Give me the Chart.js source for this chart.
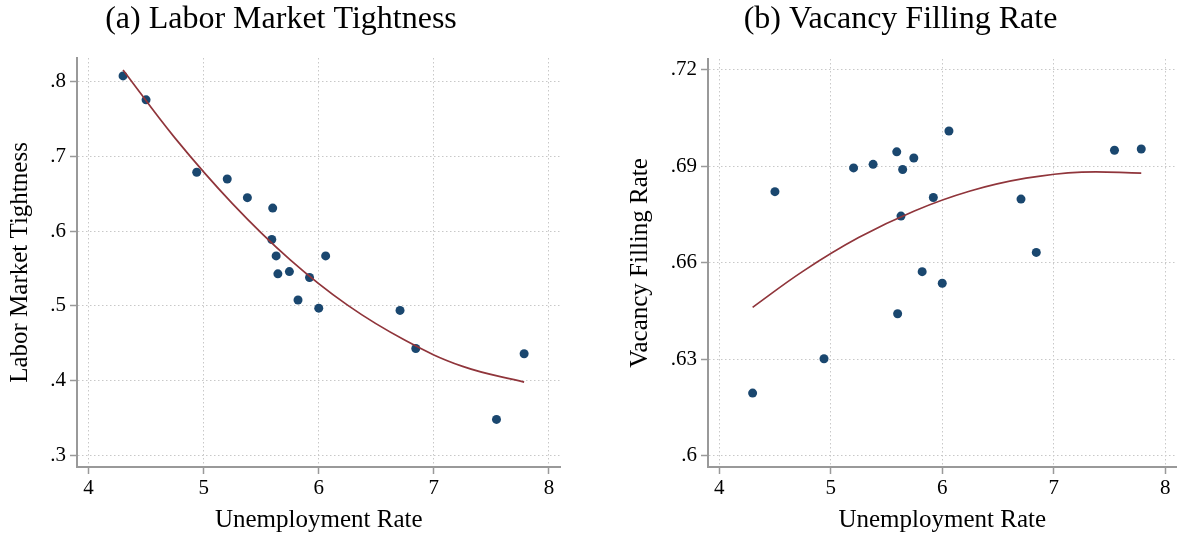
<!DOCTYPE html>
<html><head><meta charset="utf-8">
<script src="https://cdn.jsdelivr.net/npm/chart.js@4.4.0/dist/chart.umd.min.js"></script>
<style>
html,body{margin:0;padding:0;background:#fff;}
body{width:1181px;height:535px;position:relative;overflow:hidden;}
canvas{position:absolute;top:0;}
#c1{left:0;} #c2{left:620px;}
</style></head><body>
<canvas id="c1" width="565" height="535"></canvas>
<canvas id="c2" width="561" height="535"></canvas>
<script>
// ---- data ----
const unemployment   = [4.30, 4.50, 4.94, 5.205, 5.38, 5.592, 5.60, 5.63, 5.645, 5.745, 5.82, 5.92, 6.00, 6.06, 6.706, 6.843, 7.544, 7.784];
const tightness      = [0.808, 0.776, 0.679, 0.670, 0.645, 0.589, 0.631, 0.567, 0.543, 0.546, 0.508, 0.538, 0.497, 0.567, 0.494, 0.443, 0.348, 0.436];
const vacancyFilling = [0.6194, 0.6821, 0.6301, 0.6895, 0.6906, 0.6945, 0.6441, 0.6745, 0.6890, 0.6926, 0.6572, 0.6803, 0.6536, 0.7010, 0.6798, 0.6632, 0.6950, 0.6954];

// fitted (quadratic) curves, read at several points along the drawn lines
const fitX           = [4.30, 4.75, 5.25, 5.75, 6.25, 6.75, 7.25, 7.784];
const fitTightness   = [0.816, 0.725, 0.637, 0.562, 0.501, 0.454, 0.419, 0.398];
const fitVacancy     = [0.6461, 0.6573, 0.6678, 0.6761, 0.6823, 0.6863, 0.6882, 0.6879];

// axes
const xTicks        = [4, 5, 6, 7, 8];
const xTickLabels   = ['4', '5', '6', '7', '8'];
const yTicksA       = [0.3, 0.4, 0.5, 0.6, 0.7, 0.8];
const yTickLabelsA  = ['.3', '.4', '.5', '.6', '.7', '.8'];
const yTicksB       = [0.60, 0.63, 0.66, 0.69, 0.72];
const yTickLabelsB  = ['.6', '.63', '.66', '.69', '.72'];

const titleA = '(a) Labor Market Tightness';
const titleB = '(b) Vacancy Filling Rate';
const xTitle = 'Unemployment Rate';
const yTitleA = 'Labor Market Tightness';
const yTitleB = 'Vacancy Filling Rate';

// ---- styling ----
const SERIF = "'Liberation Serif', 'Times New Roman', serif";
const NAVY = '#1a476f';
const MAROON = '#90353b';
const GRID = '#c8c8c8';
const AXIS = '#999999';

function pts(xs, ys) { return xs.map((x, i) => ({x: x, y: ys[i]})); }

function makeChart(id, cfg) {
  return new Chart(document.getElementById(id), {
    type: 'scatter',
    data: {
      datasets: [
        {
          data: pts(fitX, cfg.fit),
          showLine: true,
          borderColor: MAROON,
          borderWidth: 1.7,
          pointRadius: 0,
          tension: 0.4,
          fill: false
        },
        {
          data: pts(unemployment, cfg.values),
          showLine: false,
          pointRadius: 4.5,
          pointBackgroundColor: NAVY,
          pointBorderColor: NAVY,
          pointBorderWidth: 0
        }
      ]
    },
    options: {
      responsive: false,
      animation: false,
      events: [],
      layout: { padding: { left: 0, right: cfg.rightPad, top: 0, bottom: 0 } },
      plugins: {
        legend: { display: false },
        tooltip: { enabled: false },
        title: {
          display: true,
          text: cfg.title,
          color: '#000',
          font: { family: SERIF, size: 32, weight: 'normal', lineHeight: 1.2 },
          padding: { top: 0, bottom: cfg.titleGap }
        }
      },
      scales: {
        x: {
          type: 'linear',
          min: 3.9, max: 8.1,
          afterBuildTicks: s => { s.ticks = xTicks.map(v => ({value: v})); },
          afterFit: s => { s.height = 68; },
          ticks: {
            autoSkip: false, maxRotation: 0, padding: 2,
            color: '#000',
            font: { family: SERIF, size: 21 },
            callback: (v, i) => xTickLabels[i]
          },
          grid: { color: GRID, lineWidth: 1, tickLength: 7, tickColor: AXIS, tickWidth: 1.5 },
          border: { display: true, color: AXIS, width: 2, dash: [1.5, 2.5] },
          title: {
            display: true, text: xTitle, color: '#000',
            font: { family: SERIF, size: 25, lineHeight: 1.2 },
            padding: { top: 0, bottom: 0 }
          }
        },
        y: {
          type: 'linear',
          min: cfg.ymin, max: cfg.ymax,
          afterBuildTicks: s => { s.ticks = cfg.yTicks.map(v => ({value: v})); },
          afterFit: s => { s.width = cfg.yWidth; },
          ticks: {
            autoSkip: false, padding: 4,
            color: '#000',
            font: { family: SERIF, size: 21 },
            callback: (v, i) => cfg.yLabels[i]
          },
          grid: { color: GRID, lineWidth: 1, tickLength: 7, tickColor: AXIS, tickWidth: 1.5 },
          border: { display: true, color: AXIS, width: 2, dash: [1.5, 2.5] },
          title: {
            display: true, text: cfg.yTitle, color: '#000',
            font: { family: SERIF, size: 25, lineHeight: 1.2 },
            padding: { top: 5, bottom: 0 }
          }
        }
      }
    }
  });
}

makeChart('c1', {
  title: titleA, yTitle: yTitleA, values: tightness, fit: fitTightness,
  ymin: 0.2843, ymax: 0.832, yTicks: yTicksA, yLabels: yTickLabelsA,
  yWidth: 77, rightPad: 3, titleGap: 19.6
});
makeChart('c2', {
  title: titleB, yTitle: yTitleB, values: vacancyFilling, fit: fitVacancy,
  ymin: 0.5964, ymax: 0.7234, yTicks: yTicksB, yLabels: yTickLabelsB,
  yWidth: 88, rightPad: 0, titleGap: 20.6
});
</script>
</body></html>
